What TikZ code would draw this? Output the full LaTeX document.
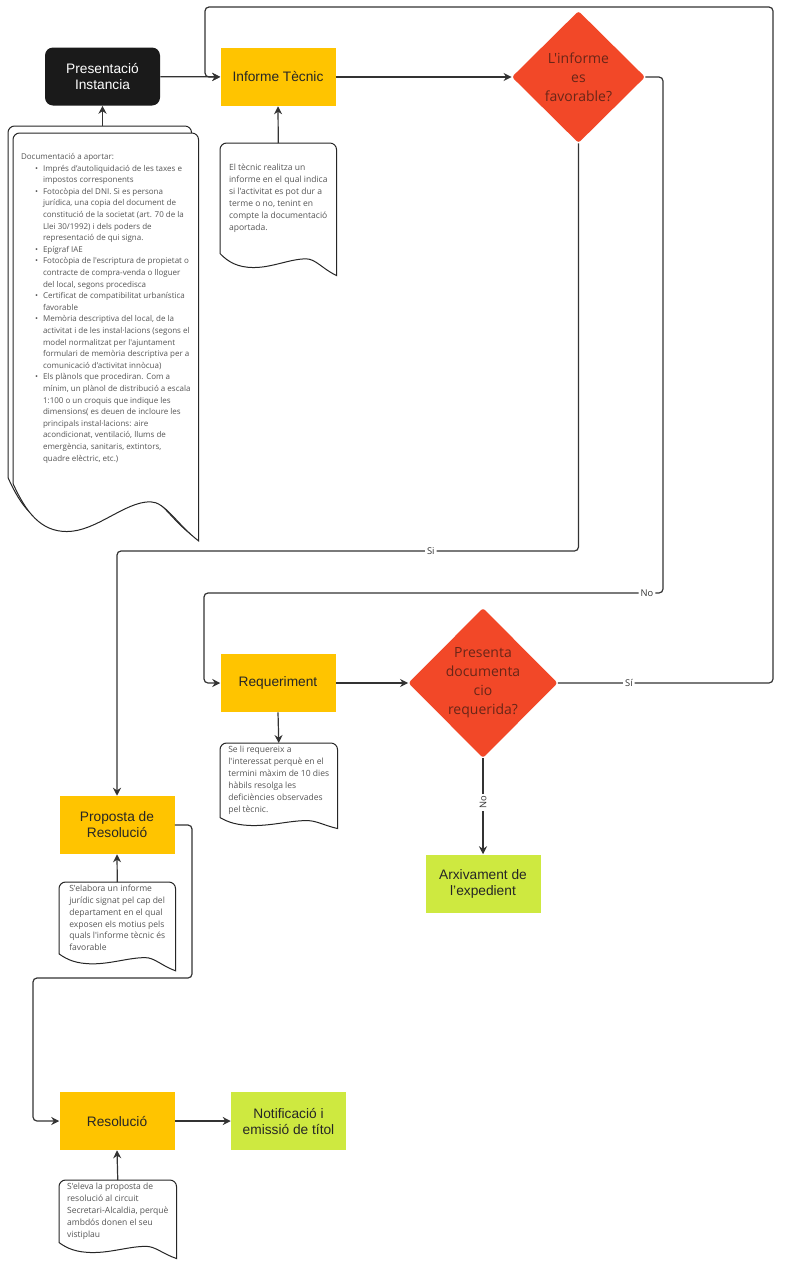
\documentclass[tikz,border=0pt]{standalone}
\usepackage{fontspec}
\setmainfont{Liberation Sans}
\newfontfamily\docfont{Open Sans}
\usepackage{xcolor}
\usepackage{tikz}
\usetikzlibrary{arrows.meta,shapes.geometric,positioning,calc,backgrounds}

\definecolor{boxyellow}{RGB}{255,196,0}
\definecolor{decred}{RGB}{242,72,40}
\definecolor{dectext}{RGB}{105,38,24}
\definecolor{endgreen}{RGB}{206,233,64}
\definecolor{boxblack}{RGB}{26,26,26}
\definecolor{linegray}{RGB}{51,51,51}
\definecolor{docgray}{RGB}{85,85,85}

\tikzset{
  proc/.style={fill=boxyellow, minimum width=86.25pt, minimum height=43.5pt, align=center, text=black!85, font=\fontsize{10.3}{12}\selectfont},
  final/.style={proc, fill=endgreen},
  start/.style={proc, fill=boxblack, text=white, rounded corners=6pt},
  decision/.style={diamond, fill=decred, rounded corners=2pt, inner sep=0pt, align=center, text=dectext, font=\docfont\fontsize{10.5}{14.2}\selectfont},
  doc/.style={anchor=north west, inner sep=2pt, align=left, text=docgray, font=\docfont\fontsize{6.4}{8.9}\selectfont},
  bigdoc/.style={doc, font=\docfont\fontsize{6}{8.7}\selectfont},
  docline/.style={draw=black!85, line width=0.75pt, fill=white},
  flow/.style={-{Stealth[length=6pt,width=6pt]}, draw=linegray, line width=0.9pt, rounded corners=3pt},
  lbl/.style={fill=white, inner sep=1.5pt, text=linegray, font=\docfont\fontsize{7}{8}\selectfont},
}

% outline of a document: node, trough depth, right depth (pt)
\newcommand{\docoutline}[3]{%
  \begin{scope}[on background layer]
    \draw[docline] (#1.south west) -- ([yshift=-5pt]#1.north west)
      arc[start angle=180, end angle=90, radius=5pt]
      -- ([xshift=-5pt]#1.north east)
      arc[start angle=90, end angle=0, radius=5pt]
      -- ($(#1.south east)+(0,-#3pt)$)
      .. controls ($(#1.south west)!0.88!(#1.south east)+(0,-0.7*#3pt)$) and ($(#1.south west)!0.82!(#1.south east)+(0,-0.38*#2pt)$) .. ($(#1.south west)!0.74!(#1.south east)+(0,-0.38*#2pt)$)
      .. controls ($(#1.south west)!0.6!(#1.south east)+(0,-0.38*#2pt)$) and ($(#1.south west)!0.45!(#1.south east)+(0,-#2pt)$) .. ($(#1.south west)!0.29!(#1.south east)+(0,-#2pt)$)
      .. controls ($(#1.south west)!0.15!(#1.south east)+(0,-#2pt)$) and ($(#1.south west)!0.07!(#1.south east)+(0,-0.6*#2pt)$) .. (#1.south west) -- cycle;
  \end{scope}}
\newcommand{\docbul}{\hspace*{10.5pt}\makebox[6pt][l]{\textbullet}}
\newcommand{\docind}{\hspace*{16.5pt}}

\begin{document}
\begin{tikzpicture}[x=0.75pt, y=-0.75pt]
  \useasboundingbox (0,0) rectangle (791,1264);
  \begin{scope}[on background layer]
    \fill[white] (0,0) rectangle (791,1264);
  \end{scope}

  % boxes
  \node[start] (pres) at (102.5,76.5) {Presentació\\Instancia};
  \node[proc] (inf) at (278,77) {Informe Tècnic};
  \node[decision, minimum width=100pt, minimum height=99pt] (dec1) at (578.5,77) {L'informe\\es\\favorable?};
  \node[proc] (req) at (278,683) {Requeriment};
  \node[decision, minimum width=112pt, minimum height=112.5pt] (dec2) at (483,683) {Presenta\\documenta\\cio\\requerida?};
  \node[final] (arx) at (483,883.5) {Arxivament de\\l'expedient};
  \node[proc] (prop) at (117,825) {Proposta de\\Resolució};
  \node[proc] (res) at (117,1121) {Resolució};
  \node[final] (notif) at (288.5,1121) {Notificació i\\emissió de títol};

  % documents
  \node[bigdoc, minimum width=137.25pt, minimum height=263.25pt] (docpresb) at (8,126) {};
  \node[bigdoc, minimum width=138.75pt, minimum height=262.5pt] (docpres) at (13,133) {%
    Documentació a aportar:\\
    \docbul Imprés d’autoliquidació de les taxes e\\
    \docind impostos corresponents\\
    \docbul Fotocòpia del DNI. Si es persona\\
    \docind jurídica, una copia del document de\\
    \docind constitució de la societat (art. 70 de la\\
    \docind Llei 30/1992) i dels poders de\\
    \docind representació de qui signa.\\
    \docbul Epígraf IAE\\
    \docbul Fotocòpia de l'escriptura de propietat o\\
    \docind contracte de compra-venda o lloguer\\
    \docind del local, segons procedisca\\
    \docbul Certificat de compatibilitat urbanística\\
    \docind favorable\\
    \docbul Memòria descriptiva del local, de la\\
    \docind activitat i de les instal·lacions (segons el\\
    \docind model normalitzat per l'ajuntament\\
    \docind formulari de memòria descriptiva per a\\
    \docind comunicació d’activitat innòcua)\\
    \docbul Els plànols que procediran. Com a\\
    \docind mínim, un plànol de distribució a escala\\
    \docind 1:100 o un croquis que indique les\\
    \docind dimensions( es deuen de incloure les\\
    \docind principals instal·lacions: aire\\
    \docind acondicionat, ventilació, llums de\\
    \docind emergència, sanitaris, extintors,\\
    \docind quadre elèctric, etc.)};
  \node[doc, minimum width=87pt, minimum height=82.5pt] (docinf) at (220,143) {El tècnic realitza un\\informe en el qual indica\\si l'activitat es pot dur a\\terme o no, tenint en\\compte la documentació\\aportada.};
  \node[doc, minimum width=87.75pt, minimum height=55.5pt] (docreq) at (220,743) {Se li requereix a\\l'interessat perquè en el\\termini màxim de 10 dies\\hàbils resolga les\\deficiències observades\\pel tècnic.};
  \node[doc, minimum width=87pt, minimum height=51pt] (docprop) at (59,882) {S'elabora un informe\\jurídic signat pel cap del\\departament en el qual\\exposen els motius pels\\quals l'informe tècnic és\\favorable};
  \node[doc, minimum width=87.75pt, minimum height=46.5pt] (docres) at (59,1180) {S'eleva la proposta de\\resolució al circuit\\Secretari-Alcaldia, perquè\\ambdós donen el seu\\vistiplau};

  \docoutline{docpresb}{36}{43}
  \docoutline{docpres}{36}{43}
  \docoutline{docinf}{10.5}{16.5}
  \docoutline{docreq}{6}{8.25}
  \docoutline{docprop}{7.5}{12.75}
  \docoutline{docres}{7.5}{12}

  % bend points
  \coordinate (siy) at (0,551);
  \coordinate (noright) at (663,593);
  \coordinate (noleft) at (204,593);
  \coordinate (loopne) at (773,7);
  \coordinate (loopnw) at (205,7);
  \coordinate (propr) at (192,978);
  \coordinate (resl) at (33,978);

  % connectors
  \draw[flow] (pres.south |- docpresb.north) -- (pres.south);
  \draw[flow] (pres) -- (inf);
  \draw[flow] (docinf.north) -- (inf.south);
  \draw[flow] (inf) -- (dec1);
  \draw[flow] (dec1.south) -- (dec1.south |- siy) -- node[lbl, pos=0.32]{Si} (prop.north |- siy) -- (prop.north);
  \draw[flow] (dec1.east) -| (noright) -- node[lbl, pos=0.035]{No} (noleft) |- (req.west);
  \draw[flow] (req.south) -- (docreq.north);
  \draw[flow] (req) -- (dec2);
  \draw[flow] (dec2.east) -| node[lbl, pos=0.165]{Sí} (loopne) -- (loopnw) |- (inf.west);
  \draw[flow] (dec2) -- node[lbl, rotate=90, pos=0.46]{No} (arx);
  \draw[flow] (docprop.north) -- (prop.south);
  \draw[flow] (prop.east) -| (propr) -- (resl) |- (res.west);
  \draw[flow] (docres.north) -- (res.south);
  \draw[flow] (res) -- (notif);
\end{tikzpicture}
\end{document}
